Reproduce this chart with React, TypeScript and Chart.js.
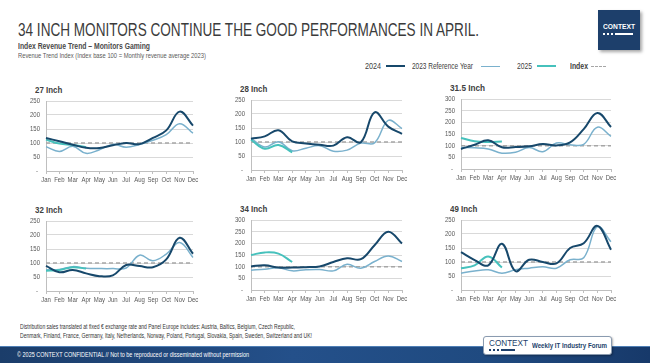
import React, { useEffect, useLayoutEffect, useRef } from 'react';
import { Chart, registerables } from 'chart.js';

Chart.register(...registerables);

// ---------- DATA ----------
const months = ['Jan', 'Feb', 'Mar', 'Apr', 'May', 'Jun', 'Jul', 'Aug', 'Sep', 'Oct', 'Nov', 'Dec'];
const indexBase = [100, 100, 100, 100, 100, 100, 100, 100, 100, 100, 100, 100];

const inch27_2024 = [118, 106, 94, 83, 82, 92, 100, 96, 118, 145, 212, 162];
const inch27_2023 = [87, 70, 88, 63, 76, 95, 85, 95, 110, 130, 169, 135];
const inch27_2025 = [112, 98, 93, 85];

const inch28_2024 = [112, 120, 142, 102, 95, 90, 87, 117, 99, 206, 155, 129];
const inch28_2023 = [114, 82, 101, 69, 78, 87, 67, 71, 96, 97, 177, 148];
const inch28_2025 = [108, 76, 89, 63];

const inch315_2024 = [86, 104, 123, 93, 94, 97, 107, 101, 114, 171, 240, 180];
const inch315_2023 = [92, 91, 86, 68, 72, 92, 74, 111, 104, 106, 179, 140];
const inch315_2025 = [133, 119, 116, 118];

const inch32_2024 = [90, 67, 75, 63, 53, 56, 93, 89, 85, 113, 190, 133];
const inch32_2023 = [76, 77, 87, 81, 80, 80, 82, 128, 108, 132, 173, 120];
const inch32_2025 = [72, 75, 85, 80];

const inch34_2024 = [101, 106, 96, 96, 98, 101, 120, 136, 132, 192, 250, 199];
const inch34_2023 = [85, 89, 95, 82, 87, 88, 82, 110, 93, 122, 146, 122];
const inch34_2025 = [150, 161, 156, 120];

const inch49_2024 = [135, 107, 88, 165, 67, 108, 100, 95, 150, 167, 229, 144];
const inch49_2023 = [60, 68, 72, 60, 72, 78, 83, 78, 108, 115, 226, 172];
const inch49_2025 = [78, 88, 120, 80];

const panelTitles = ['27 Inch', '28 Inch', '31.5 Inch', '32 Inch', '34 Inch', '49 Inch'];
const panelMax = [250, 250, 300, 250, 300, 250];

// ---------- STYLE ----------
const C2024 = '#17486b';
const C2023 = '#7ab1cd';
const C2025 = '#46c1bc';
const CINDEX = '#a6a6a6';
const FONT = '"Liberation Sans", Arial, sans-serif';
const NAVY = '#1d3f6b';
const SX = 0.8;

const PAD_L = 34;
const PAD_T = 8;
const PAD_R = 16;
const PAD_B = 18;

const narrowLabels = {
  id: 'narrowLabels',
  afterDraw(chart: any) {
    const ctx = chart.ctx as CanvasRenderingContext2D;
    const xs = chart.scales.x;
    const ys = chart.scales.y;
    const area = chart.chartArea;
    ctx.save();
    ctx.fillStyle = '#595959';
    ctx.font = `7.5px ${FONT}`;
    ctx.textBaseline = 'middle';
    ctx.textAlign = 'center';
    xs.ticks.forEach((_t: any, i: number) => {
      const px = xs.getPixelForTick(i);
      ctx.save();
      ctx.translate(px, area.bottom + 9);
      ctx.scale(SX, 1);
      ctx.fillText(String(chart.data.labels[i]), 0, 0);
      ctx.restore();
    });
    ctx.textAlign = 'right';
    ys.ticks.forEach((t: any, i: number) => {
      const py = ys.getPixelForTick(i);
      const zero = Number(t.value) === 0;
      ctx.save();
      ctx.translate(area.left - (zero ? 8 : 6), py);
      ctx.scale(SX, 1);
      ctx.fillText(zero ? '-' : String(t.value), 0, 0);
      ctx.restore();
    });
    ctx.restore();
  },
};

type PanelProps = {
  title: string;
  d2024: number[];
  d2023: number[];
  d2025: number[];
  yMax: number;
  x: number;
  y: number;
  w: number;
  h: number;
};

function Fit({ w, style, children }: { w: number; style?: React.CSSProperties; children: React.ReactNode }) {
  const ref = useRef<HTMLSpanElement | null>(null);
  useLayoutEffect(() => {
    const el = ref.current;
    if (!el) return;
    el.style.transform = 'none';
    const nat = el.getBoundingClientRect().width;
    if (nat > 0) el.style.transform = `scaleX(${w / nat})`;
  });
  return (
    <span
      ref={ref}
      style={{ position: 'absolute', display: 'inline-block', whiteSpace: 'nowrap', transformOrigin: '0 0', ...style }}
    >
      {children}
    </span>
  );
}

function MiniChart({ title, d2024, d2023, d2025, yMax, x, y, w, h }: PanelProps) {
  const ref = useRef<HTMLCanvasElement | null>(null);
  useEffect(() => {
    if (!ref.current) return;
    const pad = (arr: number[]) => months.map((_, i) => (i < arr.length ? arr[i] : null));
    const chart = new Chart(ref.current, {
      type: 'line',
      data: {
        labels: months,
        datasets: [
          { label: '2024', data: d2024, borderColor: C2024, borderWidth: 2, tension: 0.4, pointRadius: 0, order: 0 },
          { label: '2025', data: pad(d2025), borderColor: C2025, borderWidth: 2, tension: 0.4, pointRadius: 0, order: 1 },
          { label: '2023 Reference Year', data: d2023, borderColor: C2023, borderWidth: 1.5, tension: 0.4, pointRadius: 0, order: 2 },
          { label: 'Index', data: indexBase, borderColor: CINDEX, borderWidth: 1.5, borderDash: [4, 3], tension: 0, pointRadius: 0, order: 3 },
        ],
      },
      options: {
        animation: false,
        responsive: false,
        maintainAspectRatio: false,
        devicePixelRatio: 1,
        layout: { padding: { left: 0, top: PAD_T, right: PAD_R, bottom: 0 } },
        plugins: { legend: { display: false }, tooltip: { enabled: false }, title: { display: false } },
        scales: {
          x: {
            type: 'category',
            offset: false,
            grid: { display: true, drawOnChartArea: false, drawTicks: true, tickLength: 3, color: '#bfbfbf' },
            border: { display: true, color: '#bfbfbf' },
            ticks: { display: false, autoSkip: false, maxRotation: 0 },
            afterFit: (s: any) => {
              s.height = PAD_B;
              s.paddingLeft = 0;
              s.paddingRight = 0;
            },
          },
          y: {
            min: 0,
            max: yMax,
            grid: { color: '#d9d9d9', drawTicks: false, lineWidth: 1 },
            border: { display: true, color: '#bfbfbf' },
            ticks: { stepSize: 50, display: false },
            afterFit: (s: any) => {
              s.width = PAD_L;
              s.paddingTop = 0;
              s.paddingBottom = 0;
            },
          },
        },
      },
      plugins: [narrowLabels],
    });
    return () => chart.destroy();
  }, []);

  const cw = w + PAD_L + PAD_R;
  const ch = h + PAD_T + PAD_B;
  const tw = title.length * 3.9;
  return (
    <>
      <Fit
        w={tw}
        style={{ left: x - 11, top: y - 16, fontWeight: 'bold', fontSize: 9, color: '#404040', lineHeight: '10px' }}
      >
        {title}
      </Fit>
      <canvas
        ref={ref}
        width={cw}
        height={ch}
        style={{ position: 'absolute', left: x - PAD_L, top: y - PAD_T, width: cw, height: ch }}
      />
    </>
  );
}

function LegendItem({ label, bold, color, dash, width, left, tw, lineLeft }: any) {
  return (
    <>
      <Fit w={tw} style={{ left, top: 61, fontSize: 9, color: '#404040', fontWeight: bold ? 'bold' : 'normal', lineHeight: '10px' }}>
        {label}
      </Fit>
      <span
        style={{
          position: 'absolute',
          left: lineLeft,
          top: 66 - Math.floor(width / 2),
          width: dash ? 15 : 19,
          height: 0,
          borderTop: `${width}px ${dash ? 'dashed' : 'solid'} ${color}`,
        }}
      />
    </>
  );
}

function Dots({ color, barW }: { color: string; barW: number }) {
  const dot = { display: 'inline-block', width: 2, height: 2, background: color, marginRight: 2 } as React.CSSProperties;
  return (
    <div style={{ display: 'flex', alignItems: 'center' }}>
      <span style={dot} />
      <span style={dot} />
      <span style={dot} />
      <span style={{ display: 'inline-block', width: barW, height: 2, background: color }} />
    </div>
  );
}

export default function App() {
  const panels = [
    { d2024: inch27_2024, d2023: inch27_2023, d2025: inch27_2025, x: 46, y: 101, w: 147, h: 70 },
    { d2024: inch28_2024, d2023: inch28_2023, d2025: inch28_2025, x: 251, y: 100, w: 151, h: 70 },
    { d2024: inch315_2024, d2023: inch315_2023, d2025: inch315_2025, x: 461, y: 99, w: 150, h: 70 },
    { d2024: inch32_2024, d2023: inch32_2023, d2025: inch32_2025, x: 46, y: 221, w: 147, h: 70 },
    { d2024: inch34_2024, d2023: inch34_2023, d2025: inch34_2025, x: 251, y: 220, w: 151, h: 70 },
    { d2024: inch49_2024, d2023: inch49_2023, d2025: inch49_2025, x: 461, y: 220, w: 150, h: 70 },
  ];

  return (
    <div
      style={{
        position: 'fixed',
        left: 0,
        top: 0,
        width: 650,
        height: 363,
        background: '#ffffff',
        overflow: 'hidden',
        fontFamily: FONT,
      }}
    >
      {/* Title */}
      <Fit w={461} style={{ left: 18, top: 20, fontSize: 18, color: '#3b3b3b', lineHeight: '20px' }}>
        34 INCH MONITORS CONTINUE THE GOOD PERFORMANCES IN APRIL.
      </Fit>
      <Fit w={132} style={{ left: 18, top: 41, fontSize: 9, fontWeight: 'bold', color: '#4a4a4a', lineHeight: '10px' }}>
        Index Revenue Trend – Monitors Gaming
      </Fit>
      <Fit w={188} style={{ left: 18, top: 51, fontSize: 7.5, color: '#5a5a5a', lineHeight: '9px' }}>
        Revenue Trend Index (Index base 100 = Monthly revenue average 2023)
      </Fit>

      {/* Logo */}
      <div
        style={{
          position: 'absolute',
          left: 598,
          top: 10,
          width: 42,
          height: 40,
          background: NAVY,
          boxShadow: '2px 2px 3px rgba(0,0,0,0.35)',
        }}
      >
        <Fit w={32} style={{ left: 5, top: 13, fontSize: 7, color: '#fff', fontWeight: 'bold', lineHeight: '8px' }}>
          CONTEXT
        </Fit>
        <div style={{ position: 'absolute', left: 5, top: 23 }}>
          <Dots color="#ffffff" barW={18} />
        </div>
      </div>

      {/* Legend */}
      <LegendItem label="2024" color={C2024} width={2} left={365} tw={16} lineLeft={386} />
      <LegendItem label="2023 Reference Year" color={C2023} width={1.5} left={412} tw={61} lineLeft={481} />
      <LegendItem label="2025" color={C2025} width={2.5} left={517} tw={15} lineLeft={537} />
      <LegendItem label="Index" bold color={CINDEX} width={1.5} dash left={570} tw={18} lineLeft={591} />

      {panels.map((p, i) => (
        <MiniChart key={i} title={panelTitles[i]} yMax={panelMax[i]} {...p} />
      ))}

      {/* Footnote */}
      <Fit w={275} style={{ left: 20, top: 323, fontSize: 6.5, color: '#333', lineHeight: '8px' }}>
        Distribution sales translated at fixed € exchange rate and Panel Europe includes: Austria, Baltics, Belgium, Czech Republic,
      </Fit>
      <Fit w={292} style={{ left: 20, top: 332, fontSize: 6.5, color: '#333', lineHeight: '8px' }}>
        Denmark, Finland, France, Germany, Italy, Netherlands, Norway, Poland, Portugal, Slovakia, Spain, Sweden, Switzerland and UK!
      </Fit>

      {/* Footer bar */}
      <div
        style={{
          position: 'absolute',
          left: 0,
          top: 346,
          width: 650,
          height: 17,
          background: 'linear-gradient(90deg, #1b3d6a 0%, #24508a 45%, #1f4a80 75%, #17396a 100%)',
          borderTop: '1px solid #4f7fb5',
        }}
      />
      <Fit w={232} style={{ left: 17, top: 351, fontSize: 6.5, color: '#ffffff', lineHeight: '8px' }}>
        © 2025 CONTEXT CONFIDENTIAL // Not to be reproduced or disseminated without permission
      </Fit>

      {/* Footer badge */}
      <div
        style={{
          position: 'absolute',
          left: 483,
          top: 336,
          width: 127,
          height: 17,
          background: '#ffffff',
          border: '1px solid #8a9bb0',
          borderRadius: 3,
          boxShadow: '1px 1px 2px rgba(0,0,0,0.3)',
        }}
      >
        <Fit w={39} style={{ left: 5, top: 2, fontSize: 8.5, color: NAVY, lineHeight: '9px' }}>
          CONTEXT
        </Fit>
        <div style={{ position: 'absolute', left: 5, top: 12 }}>
          <Dots color={NAVY} barW={14} />
        </div>
        <Fit w={75} style={{ left: 48, top: 4, fontSize: 7, fontWeight: 'bold', color: NAVY, lineHeight: '9px' }}>
          Weekly IT Industry Forum
        </Fit>
      </div>
    </div>
  );
}
